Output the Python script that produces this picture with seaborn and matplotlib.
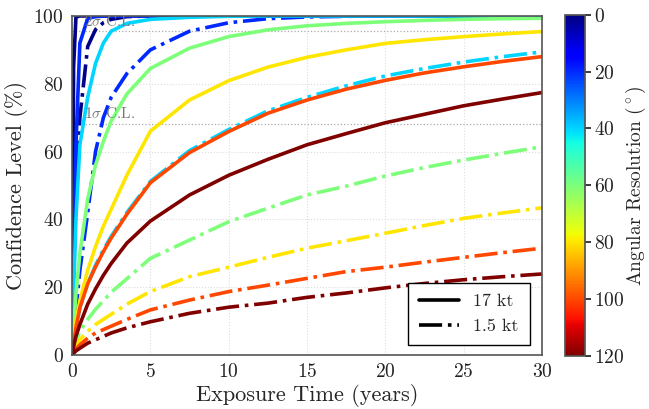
import numpy as np
import pandas as pd
import matplotlib
matplotlib.use("Agg")
import matplotlib.pyplot as plt
import seaborn as sns
from matplotlib import cm, colors

# ---------------- data ----------------
times = [0, 0.1, 0.25, 0.5, 1, 1.5, 2, 2.5, 3.5, 5, 7.5, 10, 12.5, 15, 17.5, 20, 22.5, 25, 27.5, 30]
angles = [1, 20, 40, 60, 80, 100, 120]
detectors = ["17 kt", "1.5 kt"]

# 17 kt (solid)
cl17_a1   = [0, 85, 99.7, 100, 100, 100, 100, 100, 100, 100, 100, 100, 100, 100, 100, 100, 100, 100, 100, 100]
cl17_a20  = [0, 30, 62, 92, 99.3, 99.8, 99.95, 100, 100, 100, 100, 100, 100, 100, 100, 100, 100, 100, 100, 100]
cl17_a40  = [0, 18, 40, 62, 76, 86, 92, 95.5, 97.8, 99, 99.6, 99.9, 100, 100, 100, 100, 100, 100, 100, 100]
cl17_a60  = [0, 8, 18, 30, 46, 56, 63, 69, 77, 84.5, 90.5, 93.9, 95.9, 97.1, 97.8, 98.3, 98.7, 99.0, 99.2, 99.3]
cl17_a80  = [0, 5, 10, 16, 25, 32, 38, 43, 53, 66, 75.2, 80.9, 84.9, 87.8, 90.0, 91.9, 93.0, 93.9, 94.7, 95.4]
cl17_a100 = [0, 3.5, 8, 14, 21, 26, 30.5, 34.5, 41.5, 50.8, 59.7, 65.9, 71.3, 75.2, 78.4, 81.0, 83.2, 85.0, 86.6, 88.0]
cl17_a120 = [0, 2.5, 5.5, 9, 15, 19.5, 23.5, 27, 33, 39.5, 47.2, 53.0, 57.7, 62.0, 65.3, 68.5, 71.0, 73.5, 75.5, 77.4]

# 1.5 kt (dash-dot)
cl15_a1   = [0, 22, 48, 70, 91, 96, 98, 99, 99.8, 100, 100, 100, 100, 100, 100, 100, 100, 100, 100, 100]
cl15_a20  = [0, 5, 13, 25, 42, 60, 70, 76, 83, 90, 95.5, 98, 99.2, 99.7, 99.9, 100, 100, 100, 100, 100]
cl15_a40  = [0, 3.5, 8, 14, 21, 26.5, 31, 35, 42, 51.2, 60.3, 66.5, 72.0, 76.0, 79.4, 82.3, 84.5, 86.4, 88.0, 89.4]
cl15_a60  = [0, 1.5, 4, 7, 10.5, 13.5, 16, 18.5, 22.5, 28.5, 33.9, 39.3, 43.3, 47.2, 49.8, 52.8, 55.3, 57.5, 59.5, 61.4]
cl15_a80  = [0, 1, 2.5, 4.5, 7, 9, 10.5, 12, 15, 18.7, 23.1, 25.9, 28.8, 31.5, 33.7, 35.9, 38.2, 40.3, 41.9, 43.4]
cl15_a100 = [0, 0.7, 1.8, 3, 5, 6.5, 7.5, 8.5, 10.5, 13.3, 16.2, 18.7, 20.6, 22.6, 24.6, 25.9, 27.4, 28.8, 30.2, 31.5]
cl15_a120 = [0, 0.5, 1.2, 2, 3.5, 4.5, 5.5, 6.5, 8, 9.8, 12.3, 14.1, 15.3, 17.0, 18.3, 19.8, 21.1, 22.2, 23.1, 23.9]

sigma_levels = [68.27, 95.45]
sigma_labels = [r"$1\sigma$ C.L.", r"$2\sigma$ C.L."]
x_ticks = [0, 5, 10, 15, 20, 25, 30]
y_ticks = [0, 20, 40, 60, 80, 100]
cbar_ticks = [0, 20, 40, 60, 80, 100, 120]

series = {
    "17 kt": [cl17_a1, cl17_a20, cl17_a40, cl17_a60, cl17_a80, cl17_a100, cl17_a120],
    "1.5 kt": [cl15_a1, cl15_a20, cl15_a40, cl15_a60, cl15_a80, cl15_a100, cl15_a120],
}

# ---------------- style ----------------
sns.set_theme(style="white")
plt.rcParams["font.family"] = ["serif"]
plt.rcParams["font.serif"] = ["cmr10", "DejaVu Serif"]
plt.rcParams["mathtext.fontset"] = "cm"
plt.rcParams["axes.formatter.use_mathtext"] = True
plt.rcParams["axes.unicode_minus"] = False

fig = plt.figure(figsize=(6.49, 4.09), dpi=100)
ax = fig.add_axes([0.111, 0.132, 0.724, 0.829])
cax = fig.add_axes([0.871, 0.130, 0.031, 0.834])

cmap = plt.get_cmap("jet")
norm = colors.Normalize(vmin=0, vmax=120)
styles = {"17 kt": "-", "1.5 kt": "-."}

for i, ang in enumerate(angles):
    for det in detectors:
        df = pd.DataFrame({"t": times, "cl": series[det][i]})
        sns.lineplot(data=df, x="t", y="cl", ax=ax, color=cmap(norm(ang)),
                     linestyle=styles[det], linewidth=2.6, legend=False)

for lvl, lab in zip(sigma_levels, sigma_labels):
    ax.axhline(lvl, color="#aaaaaa", linestyle=":", linewidth=0.9, zorder=0)
    ax.text(0.75, lvl + 0.8, lab, color="#777777", fontsize=11, ha="left", va="bottom")

ax.set_xlim(0, 30)
ax.set_ylim(0, 100)
ax.set_xticks(x_ticks)
ax.set_yticks(y_ticks)
ax.grid(True, color="#dddddd", linestyle=":", linewidth=0.8)
ax.set_axisbelow(True)
ax.tick_params(axis="both", labelsize=14, direction="out", length=4, width=1, colors="#222222", pad=2)
for sp in ax.spines.values():
    sp.set_color("#555555")
    sp.set_linewidth(1.2)
ax.set_xlabel("Exposure Time (years)", fontsize=16, labelpad=2)
ax.set_ylabel("Confidence Level (%)", fontsize=16, labelpad=4)

handles = [plt.Line2D([], [], color="black", linestyle=styles[d], linewidth=2.6) for d in detectors]
leg = ax.legend(handles, detectors, loc="lower right", fontsize=13, frameon=True,
                fancybox=False, edgecolor="black", framealpha=1, borderpad=0.6,
                handlelength=2.2, borderaxespad=0, bbox_to_anchor=(0.974, 0.03))
leg.get_frame().set_linewidth(1.0)

sm = cm.ScalarMappable(norm=norm, cmap=cmap)
cb = fig.colorbar(sm, cax=cax, ticks=cbar_ticks)
cb.ax.invert_yaxis()
cb.ax.tick_params(labelsize=14, length=4, colors="#222222", pad=2)
cb.outline.set_edgecolor("#555555")
cb.set_label(r"Angular Resolution $(^\circ)$", fontsize=14, labelpad=0)

fig.savefig("out.png", dpi=100)
